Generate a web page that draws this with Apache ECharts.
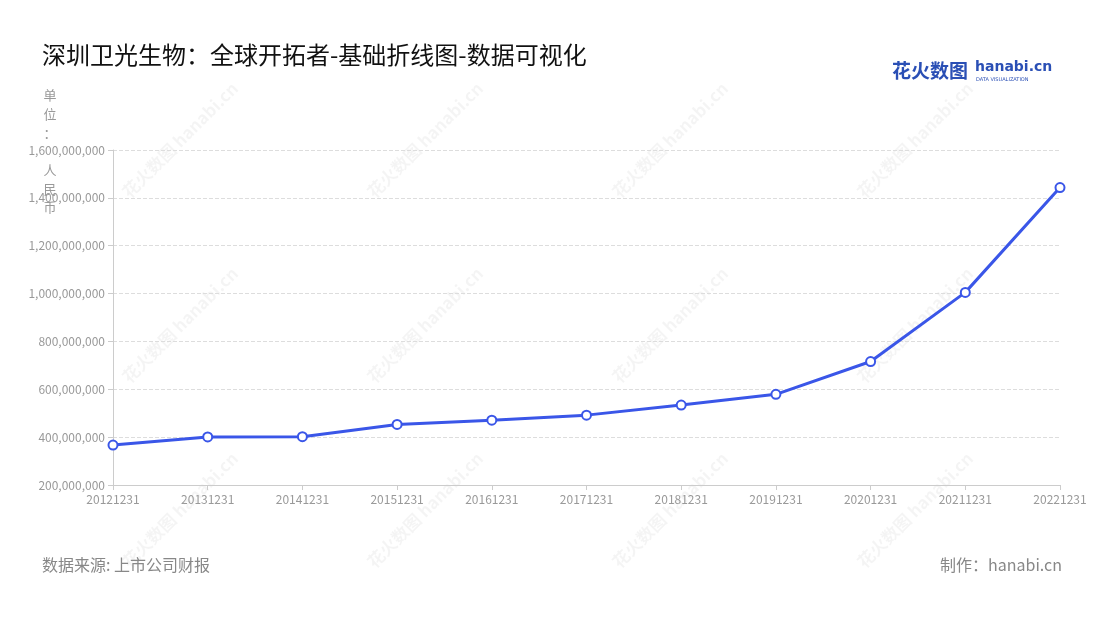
<!DOCTYPE html>
<html>
<head>
<meta charset="utf-8">
<title>深圳卫光生物</title>
<script src="https://cdn.jsdelivr.net/npm/echarts@6/dist/echarts.min.js"></script>
<style>
  html, body { margin: 0; padding: 0; background: #fff; }
  #chart { width: 1100px; height: 620px; }
</style>
</head>
<body>
<div id="chart"></div>
<script>
// 报告期
var periods = ['20121231', '20131231', '20141231', '20151231', '20161231', '20171231',
  '20181231', '20191231', '20201231', '20211231', '20221231'];
// 营业收入(人民币) 从图上估读
var revenue = [367000000, 401000000, 402000000, 453000000, 471000000, 492000000,
  534000000, 579000000, 716000000, 1005000000, 1443000000];
var yTicks = [200000000, 1600000000, 200000000]; // min, max, interval

var font = '"Noto Sans CJK SC", "Noto Sans", sans-serif';

// 水印
var marks = [];
var cols = [180, 425, 670, 915];
var rows = [140, 325, 510];
for (var i = 0; i < cols.length; i++) {
  for (var j = 0; j < rows.length; j++) {
    marks.push({
      type: 'text',
      x: cols[i],
      y: rows[j],
      rotation: Math.PI / 4,
      silent: true,
      z: -1,
      style: {
        text: '花火数图 hanabi.cn',
        fill: 'rgba(0,0,0,0.045)',
        font: 'bold 17px ' + font,
        align: 'center',
        verticalAlign: 'middle'
      }
    });
  }
}

var chart = echarts.init(document.getElementById('chart'));
chart.setOption({
  backgroundColor: '#fff',
  animation: false,
  title: {
    text: '深圳卫光生物：全球开拓者-基础折线图-数据可视化',
    left: 37,
    top: 38,
    textStyle: { fontFamily: font, fontSize: 24, fontWeight: 'normal', color: '#111' }
  },
  graphic: marks.concat([
    {
      // y轴单位
      type: 'text', x: 50, y: 86,
      style: {
        text: '单\n位\n：\n\n人\n民\n币', fill: '#999', font: '13px ' + font,
        align: 'center', lineHeight: 18.7
      }
    },
    {
      type: 'text', left: 892, top: 61,
      style: { text: '花火数图', fill: '#2a4fb5', font: 'bold 19px ' + font }
    },
    {
      type: 'text', left: 975, top: 60,
      style: { text: 'hanabi.cn', fill: '#2a4fb5', font: 'bold 14px "DejaVu Sans", sans-serif' }
    },
    {
      type: 'text', left: 976, top: 77,
      style: { text: 'DATA VISUALIZATION', fill: '#2a4fb5', font: '5px "DejaVu Sans", sans-serif' }
    },
    {
      type: 'text', left: 42, top: 557,
      style: { text: '数据来源: 上市公司财报', fill: '#888', font: '16px ' + font }
    },
    {
      type: 'text', right: 38, top: 557,
      style: { text: '制作：hanabi.cn', fill: '#888', font: '16px ' + font }
    }
  ]),
  grid: { left: 113, right: 40, top: 150, bottom: 135 },
  xAxis: {
    type: 'category',
    boundaryGap: false,
    data: periods,
    axisLine: { lineStyle: { color: '#ccc' } },
    axisTick: { lineStyle: { color: '#ccc' } },
    axisLabel: { color: '#999', fontSize: 12, fontFamily: font, margin: 8 },
    splitLine: { show: false }
  },
  yAxis: {
    type: 'value',
    min: yTicks[0],
    max: yTicks[1],
    interval: yTicks[2],
    axisLine: { show: true, lineStyle: { color: '#ccc' } },
    axisTick: { show: true, lineStyle: { color: '#ccc' } },
    axisLabel: {
      color: '#999', fontSize: 12, fontFamily: font,
      formatter: function (v) { return v.toLocaleString('en-US'); }
    },
    splitLine: { lineStyle: { color: '#ddd', type: 'dashed' } }
  },
  series: [{
    type: 'line',
    data: revenue,
    symbol: 'circle',
    symbolSize: 9,
    lineStyle: { color: '#3a56e8', width: 3 },
    itemStyle: { color: '#fff', borderColor: '#3a56e8', borderWidth: 2 }
  }]
});
</script>
</body>
</html>
